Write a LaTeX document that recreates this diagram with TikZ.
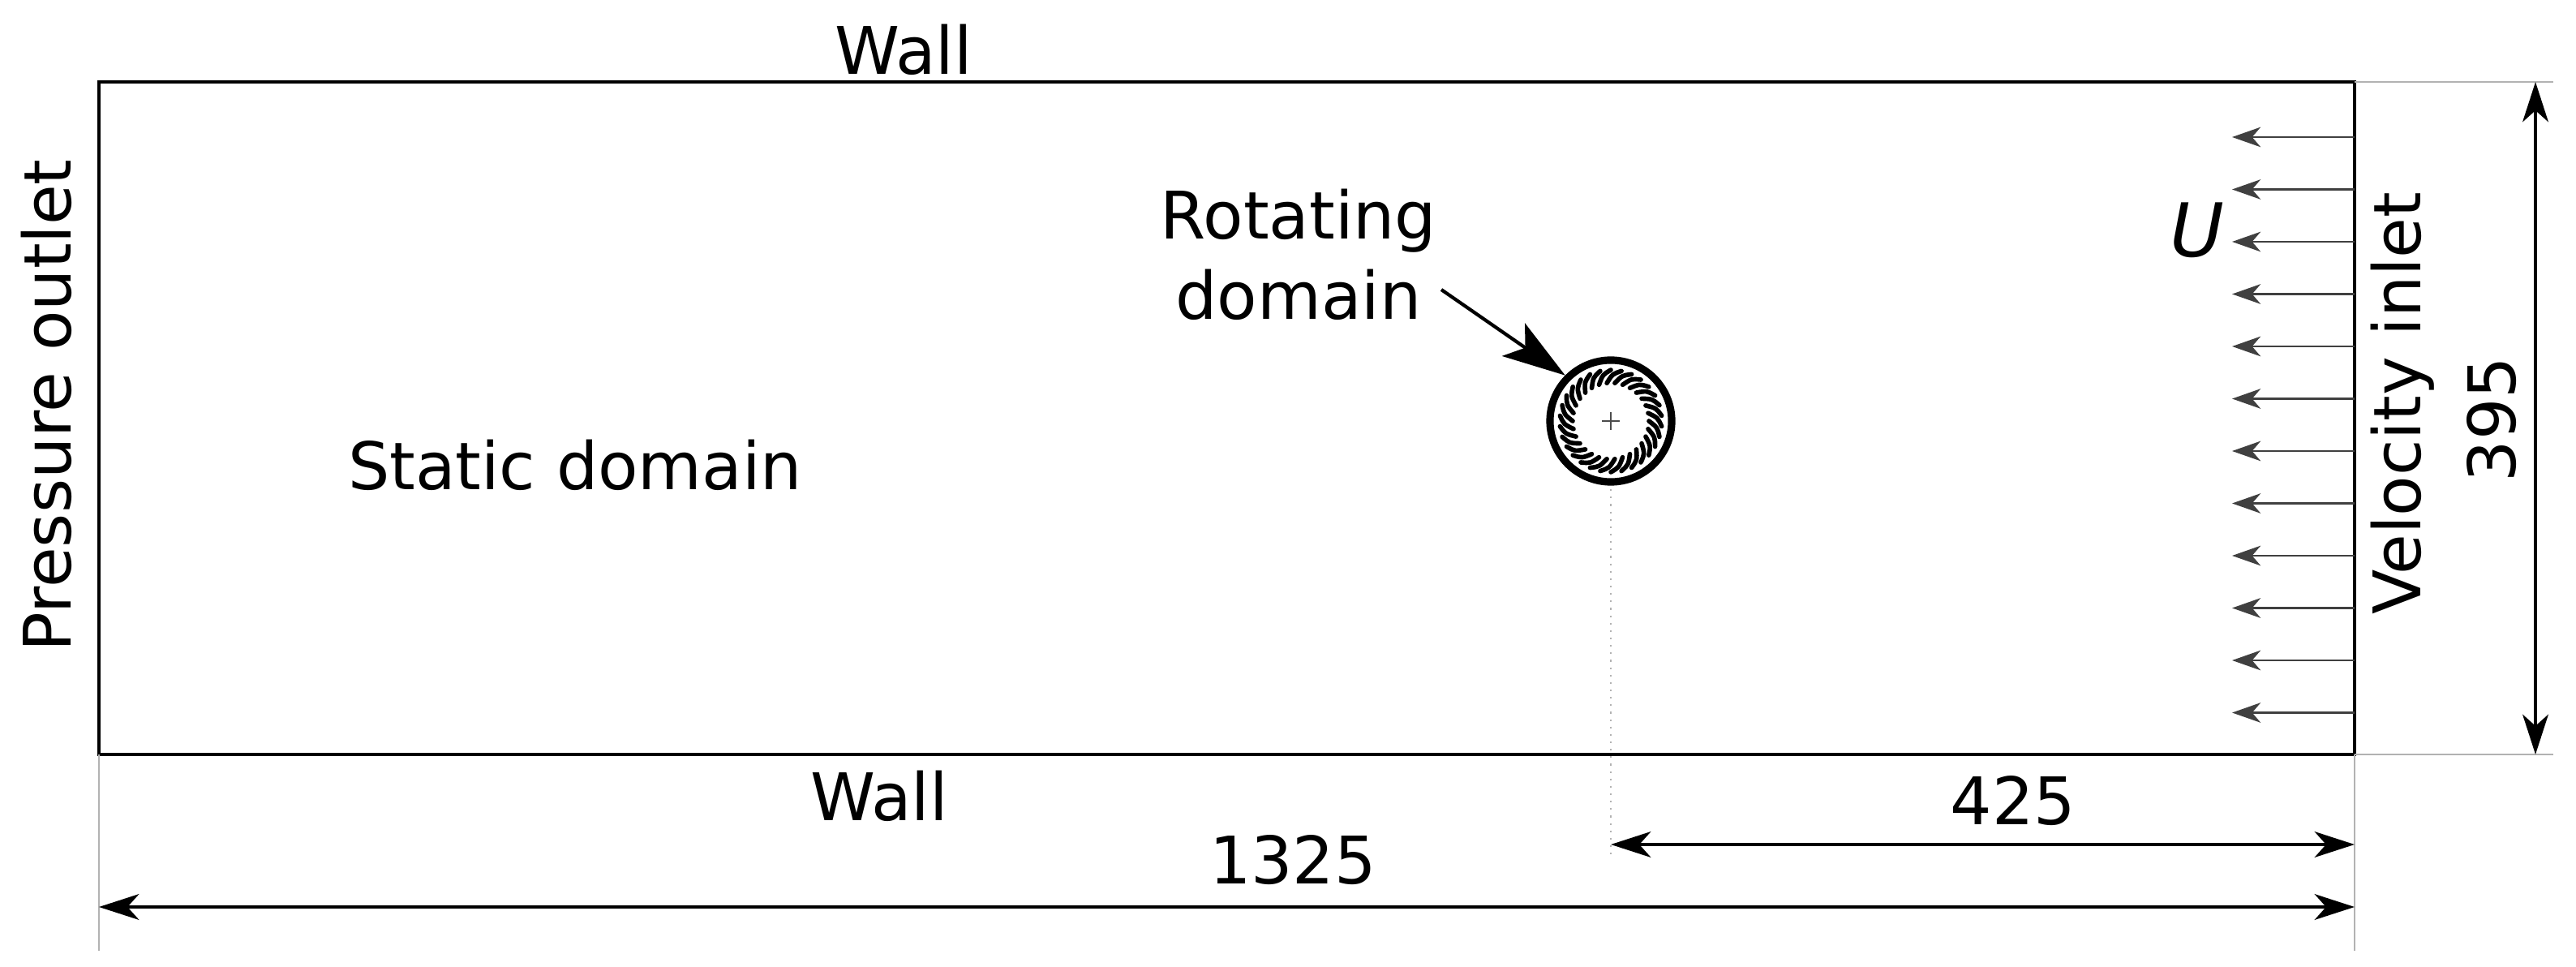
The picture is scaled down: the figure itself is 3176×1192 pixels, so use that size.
\documentclass[tikz,border=0pt]{standalone}
\usepackage{fontspec}
\setmainfont{DejaVu Sans}
\usetikzlibrary{arrows.meta,calc}
\begin{document}
\begin{tikzpicture}[x=0.01cm,y=-0.01cm,
  lbl/.style={font=\fontsize{23}{28}\selectfont, inner sep=0pt},
  ext/.style={draw=gray!60, line width=0.5pt},
  dim/.style={line width=1.3pt, {Stealth[length=14pt,width=9pt,inset=4pt]}-{Stealth[length=14pt,width=9pt,inset=4pt]}},
  flow/.style={draw=black!75, line width=0.7pt, -{Stealth[length=10pt,width=7pt,inset=3pt]}}]
\useasboundingbox (0,0) rectangle (3176,1192);
% domain
\draw[line width=1.2pt] (122,101) rectangle (2903,930);
% extension lines
\draw[ext] (2903,101) -- (3148,101);
\draw[ext] (2903,930) -- (3148,930);
\draw[ext] (122,930) -- (122,1172);
\draw[ext] (2903,930) -- (2903,1172);
\draw[draw=gray!60, line width=0.6pt, dotted] (1986,594) -- (1986,1058);
% dimensions
\coordinate (d1a) at (3126,101); \coordinate (d1b) at (3126,930);
\draw[dim] (d1a) -- (d1b);
\coordinate (d2a) at (1986,1041); \coordinate (d2b) at (2903,1041);
\draw[dim] (d2a) -- (d2b);
\coordinate (d3a) at (122,1118); \coordinate (d3b) at (2903,1118);
\draw[dim] (d3a) -- (d3b);
% inflow arrows
\foreach \i in {0,...,11}{
  \coordinate (s\i) at (2903,{169+64.5*\i});
  \coordinate (e\i) at (2752,{169+64.5*\i});
  \draw[flow] (s\i) -- (e\i);
}
% rotor
\node[circle, draw, line width=2.6pt, minimum size=1.5cm, inner sep=0pt] (rot) at (1986,519) {};
\foreach \a in {0,12,...,348}{
  \draw[line width=1.6pt, line cap=round] ($(rot.center)+(\a:47)$) .. controls ($(rot.center)+(\a+8:58)$) .. ($(rot.center)+(\a+18:63)$);
}
\draw[line width=0.5pt, draw=black!70] (1975,519) -- (1997,519) (1986,508) -- (1986,530);
% labels
\node[lbl] (wt) at (1114,61) {Wall};
\node[lbl] (wb) at (1084,981) {Wall};
\node[lbl, rotate=90] (po) at (57,500) {Pressure outlet};
\node[lbl] (sd) at (709,573) {Static domain};
\node[lbl, align=center] (rd) at (1601,314) {Rotating\\domain};
\node[lbl, rotate=90] (vi) at (2962,497) {Velocity inlet};
\node[lbl, rotate=90] (n395) at (3072,517) {395};
\node[lbl] (n425) at (2482,987) {425};
\node[lbl] (n1325) at (1594,1060) {1325};
\node[lbl, font=\fontsize{26}{30}\selectfont\itshape] (U) at (2709,284) {U};
\coordinate (ra) at (1777,357);
\draw[line width=1.2pt, -{Stealth[length=22pt,width=14pt,inset=5pt]}] (ra) -- (rot.135);
\end{tikzpicture}
\end{document}
